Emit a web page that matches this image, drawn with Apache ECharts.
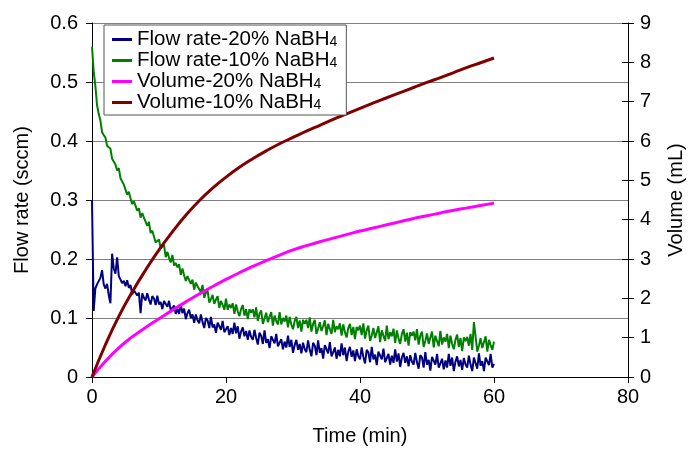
<!DOCTYPE html>
<html>
<head>
<meta charset="utf-8">
<script src="https://cdn.jsdelivr.net/npm/echarts@6/dist/echarts.min.js"></script>
<style>html,body{margin:0;padding:0;background:#fff}#c{width:694px;height:451px}</style>
</head>
<body>
<div id="c"></div>
<script>
// Sampling step of the flow-rate record (minutes)
const flowStep = 0.25;
// Flow rate, 20% NaBH4 (sccm), one value every 0.25 min from 0 to 60 min
const flow20 = [
0.300,0.112,0.150,0.157,0.160,0.168,0.181,0.157,
0.150,0.158,0.139,0.125,0.209,0.184,0.175,0.203,
0.171,0.171,0.159,0.163,0.154,0.164,0.151,0.156,
0.140,0.147,0.150,0.138,0.143,0.108,0.142,0.134,
0.130,0.142,0.131,0.123,0.137,0.133,0.122,0.138,
0.123,0.127,0.115,0.129,0.130,0.119,0.129,0.113,
0.117,0.121,0.107,0.116,0.107,0.123,0.108,0.116,
0.098,0.108,0.114,0.100,0.106,0.092,0.106,0.096,
0.091,0.106,0.093,0.083,0.100,0.096,0.083,0.102,
0.084,0.089,0.075,0.092,0.093,0.080,0.095,0.076,
0.081,0.086,0.071,0.083,0.073,0.092,0.074,0.086,
0.065,0.077,0.084,0.069,0.078,0.063,0.079,0.068,
0.063,0.080,0.066,0.055,0.075,0.070,0.056,0.079,
0.058,0.064,0.049,0.069,0.072,0.057,0.073,0.052,
0.058,0.064,0.047,0.060,0.050,0.070,0.051,0.063,
0.041,0.054,0.063,0.046,0.056,0.040,0.058,0.047,
0.042,0.062,0.046,0.035,0.058,0.053,0.037,0.062,
0.041,0.049,0.031,0.054,0.057,0.040,0.059,0.035,
0.042,0.050,0.031,0.046,0.035,0.057,0.037,0.050,
0.027,0.043,0.051,0.034,0.045,0.027,0.047,0.035,
0.030,0.050,0.034,0.023,0.046,0.042,0.025,0.051,
0.030,0.038,0.020,0.043,0.046,0.030,0.048,0.025,
0.032,0.039,0.021,0.036,0.024,0.047,0.026,0.040,
0.017,0.033,0.041,0.024,0.035,0.018,0.037,0.026,
0.021,0.041,0.025,0.014,0.037,0.033,0.016,0.042,
0.021,0.029,0.011,0.034,0.037,0.021,0.039,0.016,
0.023,0.031,0.013,0.028,0.016,0.039,0.019,0.033,
0.010,0.026,0.035,0.018,0.029,0.012,0.032,0.021,
0.016,0.036,0.021,0.010,0.033,0.030,0.014,0.040,
0.019,0.027,0.010,0.033,0.036,0.020,0.039,0.016,
0.022
];
// Flow rate, 10% NaBH4 (sccm), one value every 0.25 min from 0 to 60 min
const flow10 = [
0.560,0.518,0.494,0.461,0.446,0.435,0.415,0.410,
0.406,0.392,0.390,0.387,0.370,0.370,0.360,0.350,
0.354,0.337,0.336,0.326,0.325,0.309,0.314,0.303,
0.293,0.298,0.297,0.282,0.286,0.270,0.278,0.270,
0.270,0.256,0.263,0.244,0.248,0.248,0.228,0.230,
0.233,0.218,0.221,0.224,0.203,0.212,0.202,0.194,
0.207,0.189,0.193,0.186,0.191,0.173,0.184,0.172,
0.163,0.171,0.174,0.158,0.165,0.148,0.160,0.154,
0.157,0.144,0.156,0.134,0.143,0.147,0.126,0.132,
0.139,0.124,0.131,0.137,0.117,0.129,0.122,0.114,
0.133,0.114,0.123,0.117,0.125,0.107,0.123,0.111,
0.103,0.115,0.122,0.104,0.115,0.098,0.115,0.109,
0.115,0.101,0.118,0.095,0.107,0.113,0.090,0.099,
0.109,0.093,0.102,0.110,0.087,0.104,0.095,0.089,
0.110,0.089,0.100,0.094,0.104,0.084,0.102,0.089,
0.081,0.095,0.102,0.083,0.096,0.077,0.097,0.090,
0.097,0.083,0.101,0.077,0.090,0.097,0.073,0.082,
0.093,0.078,0.086,0.096,0.071,0.090,0.081,0.073,
0.097,0.076,0.086,0.081,0.091,0.070,0.089,0.076,
0.067,0.083,0.090,0.071,0.085,0.064,0.085,0.079,
0.087,0.071,0.091,0.065,0.079,0.087,0.061,0.070,
0.083,0.066,0.076,0.086,0.059,0.079,0.070,0.061,
0.087,0.064,0.076,0.069,0.082,0.058,0.079,0.065,
0.056,0.073,0.081,0.060,0.075,0.053,0.076,0.070,
0.077,0.062,0.081,0.055,0.070,0.077,0.051,0.061,
0.074,0.056,0.067,0.077,0.050,0.070,0.061,0.052,
0.078,0.055,0.067,0.060,0.073,0.049,0.070,0.056,
0.047,0.063,0.072,0.051,0.066,0.044,0.067,0.061,
0.068,0.053,0.073,0.046,0.093,0.069,0.043,0.053,
0.066,0.049,0.059,0.069,0.043,0.063,0.054,0.046,
0.060
];
// Volume curves (mL)
const volTime = [0,2,4,6,8,10,12,14,16,18,20,22,24,26,28,30,32,34,36,38,40,42,44,46,48,50,52,54,56,58,60];
const vol20 = [0,0.40,0.74,1.02,1.26,1.48,1.70,1.91,2.11,2.30,2.48,2.65,2.81,2.96,3.10,3.23,3.34,3.44,3.53,3.62,3.71,3.79,3.87,3.95,4.03,4.10,4.17,4.24,4.30,4.36,4.42];
const vol10 = [0,0.82,1.54,2.16,2.72,3.23,3.69,4.11,4.48,4.80,5.08,5.33,5.55,5.75,5.93,6.09,6.25,6.40,6.55,6.69,6.83,6.97,7.10,7.23,7.36,7.49,7.61,7.74,7.87,7.99,8.11];
const seriesNames = ['Flow rate-20% NaBH4','Flow rate-10% NaBH4','Volume-20% NaBH4','Volume-10% NaBH4'];
const seriesColors = ['#000080','#008000','#ff00ff','#800000'];

const FONT = 'Liberation Sans, Arial, sans-serif';
const chart = echarts.init(document.getElementById('c'), null, {renderer:'canvas'});
const flowPairs = arr => arr.map((v,i) => [i*flowStep, v]);
const volPairs = arr => arr.map((v,i) => [volTime[i], v]);

chart.setOption({
  animation: false,
  backgroundColor: '#fff',
  textStyle: {fontFamily: FONT},
  grid: {left: 92, right: 64, top: 23, bottom: 72, containLabel: false},
  legend: {
    left: 104, top: 25, orient: 'vertical',
    padding: [4, 9, 2, 8],
    itemGap: 0, itemWidth: 20, itemHeight: 3,
    icon: 'rect',
    borderColor: '#555', borderWidth: 1, backgroundColor: '#fff',
    data: seriesNames,
    formatter: n => '{a|' + n.slice(0, -1) + '}{s|' + n.slice(-1) + '}',
    textStyle: {
      fontFamily: FONT, color: '#000',
      rich: {
        a: {fontSize: 20.5, fontFamily: FONT, color: '#000', lineHeight: 19.5},
        s: {fontSize: 14, fontFamily: FONT, color: '#000', lineHeight: 19.5, verticalAlign: 'bottom', padding: [5,0,0,0]}
      }
    }
  },
  xAxis: {
    type: 'value', min: 0, max: 80, interval: 20,
    name: 'Time (min)', nameLocation: 'middle', nameGap: 49,
    nameTextStyle: {fontSize: 20, color: '#000', fontFamily: FONT},
    axisLine: {lineStyle: {color: '#000', width: 1}},
    axisTick: {length: 6, lineStyle: {color: '#000'}},
    axisLabel: {fontSize: 20, color: '#000', margin: 10, fontFamily: FONT},
    splitLine: {show: false}
  },
  yAxis: [
    {
      type: 'value', min: 0, max: 0.6, interval: 0.1, position: 'left',
      name: 'Flow rate (sccm)', nameLocation: 'middle', nameGap: 60, nameRotate: 90,
      nameTextStyle: {fontSize: 20, color: '#000', fontFamily: FONT},
      axisLine: {show: true, lineStyle: {color: '#000', width: 1}},
      axisTick: {show: true, length: 6, lineStyle: {color: '#000'}},
      axisLabel: {fontSize: 20, color: '#000', margin: 14, fontFamily: FONT},
      splitLine: {show: true, lineStyle: {color: '#808080', width: 1}}
    },
    {
      type: 'value', min: 0, max: 9, interval: 1, position: 'right',
      name: 'Volume (mL)', nameLocation: 'middle', nameGap: 38, nameRotate: 90,
      nameTextStyle: {fontSize: 20, color: '#000', fontFamily: FONT},
      axisLine: {show: true, lineStyle: {color: '#000', width: 1}},
      axisTick: {show: true, length: 6, lineStyle: {color: '#000'}},
      axisLabel: {fontSize: 20, color: '#000', margin: 12, fontFamily: FONT},
      splitLine: {show: false}
    },
    {
      type: 'value', min: 0, max: 9, interval: 1, position: 'right',
      axisLine: {show: false},
      axisTick: {show: true, inside: true, length: 6, lineStyle: {color: '#000'}},
      axisLabel: {show: false},
      splitLine: {show: false}
    }
  ],
  series: [
    {name: seriesNames[0], type: 'line', yAxisIndex: 0, data: flowPairs(flow20), showSymbol: false, symbol: 'none',
     lineStyle: {color: seriesColors[0], width: 2}, itemStyle: {color: seriesColors[0]}},
    {name: seriesNames[1], type: 'line', yAxisIndex: 0, data: flowPairs(flow10), showSymbol: false, symbol: 'none',
     lineStyle: {color: seriesColors[1], width: 2}, itemStyle: {color: seriesColors[1]}},
    {name: seriesNames[2], type: 'line', yAxisIndex: 1, data: volPairs(vol20), showSymbol: false, symbol: 'none', smooth: true,
     lineStyle: {color: seriesColors[2], width: 3}, itemStyle: {color: seriesColors[2]}},
    {name: seriesNames[3], type: 'line', yAxisIndex: 1, data: volPairs(vol10), showSymbol: false, symbol: 'none', smooth: true,
     lineStyle: {color: seriesColors[3], width: 3}, itemStyle: {color: seriesColors[3]}}
  ]
});
</script>
</body>
</html>
